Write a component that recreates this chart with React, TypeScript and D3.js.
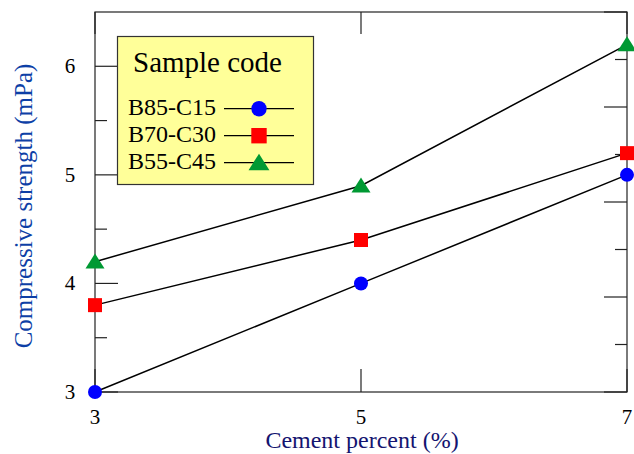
import React from "react";
import * as d3 from "d3";

const cementPercent = [3, 5, 7];
const seriesNames = ["B85-C15", "B70-C30", "B55-C45"];
const b85c15 = [3.0, 4.0, 5.0];
const b70c30 = [3.8, 4.4, 5.2];
const b55c45 = [4.2, 4.9, 6.2];
const xTicks = [3, 5, 7];
const yMajorTicks = [3, 4, 5, 6];
const yMinorTicks = [3.5, 4.5, 5.5];
const rightTicks = [0, 0.5, 1, 1.5, 2, 2.5, 3, 3.5, 4];
const seriesColors = ["#0000ff", "#ff0000", "#009933"];
const seriesShapes = ["circle", "square", "triangle"];

const W = 634;
const H = 454;
const left = 95;
const right = 627;
const top = 12;
const bottom = 392;
const FONT = '"Liberation Serif", "DejaVu Serif", serif';
const tStyle = { fontFamily: FONT };

function Marker({ shape, x, y, color, s = 1 }: { shape: string; x: number; y: number; color: string; s?: number }) {
  if (shape === "circle") return <circle cx={x} cy={y} r={7 * s} fill={color} />;
  if (shape === "square") return <rect x={x - 7 * s} y={y - 7 * s} width={14 * s} height={14 * s} fill={color} />;
  const w = 9.5 * s;
  const h = 15 * s;
  return <path d={`M${x},${y - h * 0.55} L${x + w},${y + h * 0.45} L${x - w},${y + h * 0.45} Z`} fill={color} />;
}

export default function App() {
  const x = d3.scaleLinear().domain([3, 7]).range([left, right]);
  const y = d3.scaleLinear().domain([3, 6.5]).range([bottom, top]);
  const yr = d3.scaleLinear().domain([0, 4]).range([bottom, top]);
  const allSeries = [b85c15, b70c30, b55c45];
  const line = d3
    .line<number>()
    .x((_, i) => x(cementPercent[i]))
    .y((d) => y(d));

  const axisColor = "#222";
  return (
    <svg width={W} height={H} style={{ position: "absolute", left: 0, top: 0, background: "#fff", fontFamily: FONT }}>
      {/* frame */}
      <rect x={left} y={top} width={right - left} height={bottom - top} fill="none" stroke={axisColor} strokeWidth={1.2} />
      {/* left ticks */}
      {yMajorTicks.map((t) => (
        <line key={"ym" + t} x1={left} x2={left + 23} y1={y(t)} y2={y(t)} stroke={axisColor} strokeWidth={1.2} />
      ))}
      {yMinorTicks.map((t) => (
        <line key={"yn" + t} x1={left} x2={left + 12} y1={y(t)} y2={y(t)} stroke={axisColor} strokeWidth={1.2} />
      ))}
      {/* right ticks */}
      {rightTicks.map((t) => (
        <line
          key={"r" + t}
          x1={right}
          x2={right - (Number.isInteger(t) ? 23 : 12)}
          y1={yr(t)}
          y2={yr(t)}
          stroke={axisColor}
          strokeWidth={1.2}
        />
      ))}
      {/* bottom & top ticks */}
      {xTicks.map((t) => (
        <g key={"x" + t}>
          <line x1={x(t)} x2={x(t)} y1={bottom} y2={bottom - 23} stroke={axisColor} strokeWidth={1.2} />
          <line x1={x(t)} x2={x(t)} y1={top} y2={top + 22} stroke={axisColor} strokeWidth={1.2} />
        </g>
      ))}
      {/* tick labels */}
      {yMajorTicks.map((t) => (
        <text key={"yl" + t} x={70} y={y(t) + 7} fontSize={21} textAnchor="middle" fill="#000" style={tStyle}>
          {t}
        </text>
      ))}
      {xTicks.map((t) => (
        <text key={"xl" + t} x={x(t)} y={424} fontSize={21} textAnchor="middle" fill="#000" style={tStyle}>
          {t}
        </text>
      ))}
      {/* axis titles */}
      <text x={362} y={448} fontSize={24} textAnchor="middle" fill="#141470" style={tStyle}>
        Cement percent (%)
      </text>
      <text transform="translate(32,206) rotate(-90)" fontSize={25} textAnchor="middle" fill="#0d3fa6" style={tStyle}>
        Compressive strength (mPa)
      </text>
      {/* lines */}
      {allSeries.map((s, i) => (
        <path key={"l" + i} d={line(s) || ""} fill="none" stroke="#000" strokeWidth={1.5} />
      ))}
      {allSeries.map((s, i) =>
        s.map((v, j) => (
          <Marker key={"m" + i + "-" + j} shape={seriesShapes[i]} x={x(cementPercent[j])} y={y(v)} color={seriesColors[i]} />
        ))
      )}
      {/* legend */}
      <rect x={117.5} y={36.5} width={196} height={148} fill="#ffff99" stroke="#333" strokeWidth={1.2} />
      <text x={133} y={72} fontSize={29} fill="#000" style={tStyle}>
        Sample code
      </text>
      {seriesNames.map((n, i) => {
        const by = [115, 142, 169][i];
        const ly = by - 6.3;
        return (
          <g key={"lg" + i}>
            <text x={128} y={by} fontSize={24} fill="#000" style={tStyle}>
              {n}
            </text>
            <line x1={224} x2={294} y1={ly} y2={ly} stroke="#000" strokeWidth={1.2} />
            <Marker shape={seriesShapes[i]} x={259} y={ly} color={seriesColors[i]} s={1.1} />
          </g>
        );
      })}
    </svg>
  );
}
